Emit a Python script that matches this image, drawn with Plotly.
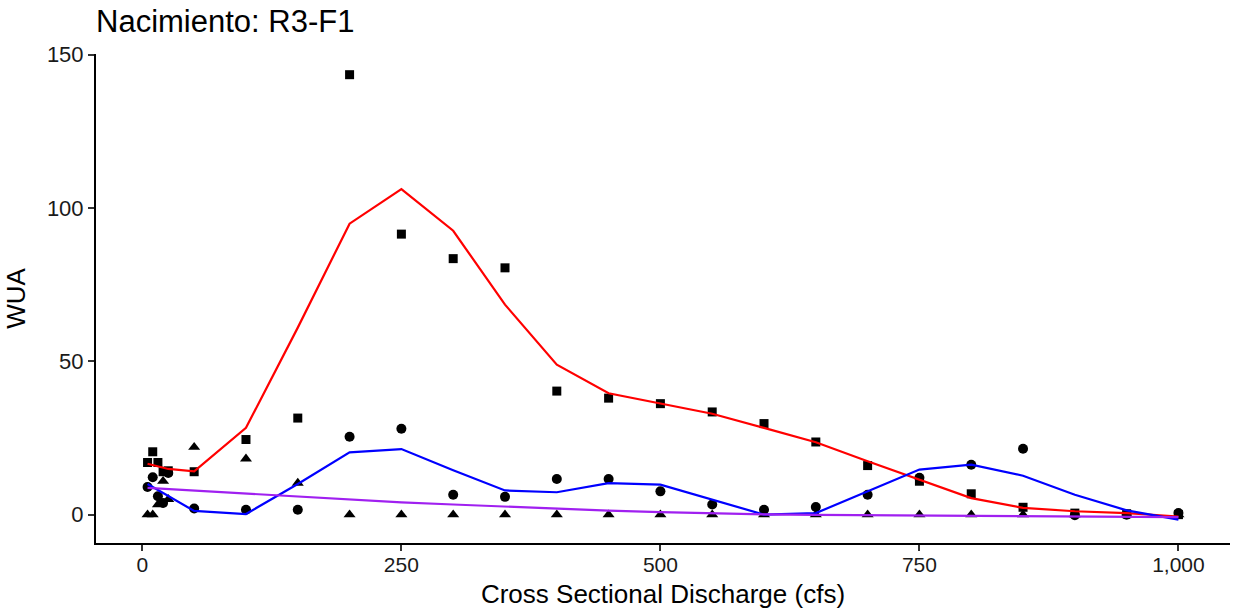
import plotly.graph_objects as go

# ---- data ----
x_pts = [5, 10, 15, 20, 25, 50, 100, 150, 200, 250, 300, 350, 400, 450, 500,
         550, 600, 650, 700, 750, 800, 850, 900, 950, 1000]
wua_square = [17, 20.5, 17, 14, 14.3, 14, 24.5, 31.5, 143.5, 91.5, 83.5, 80.5, 40.3, 38, 36.2,
              33.5, 29.7, 23.7, 16, 10.9, 6.8, 2.4, 0.5, 0.3, 0]
wua_circle = [9, 12.2, 6, 3.8, 13.6, 2, 1.6, 1.6, 25.4, 28, 6.5, 5.8, 11.6, 11.6, 7.6,
              3.3, 1.6, 2.5, 6.5, 12, 16.3, 21.5, -0.2, 0, 0.5]
wua_triangle = [0, 0, 3.3, 10.9, 5, 22, 18.2, 10.3, 0, 0, 0, 0, 0, 0, 0,
                0, 0, 0, 0, 0, 0, 0, 0, 0, 0]

x_fit = [5, 25, 50, 100, 150, 200, 250, 300, 350, 400, 450, 500, 550, 600, 650,
         700, 750, 800, 850, 900, 950, 1000]
fit_red = [16.6, 14.9, 14.1, 28.3, 61, 94.9, 106.2, 92.6, 68.5, 48.9, 39.6, 36.2, 32.9,
           28.3, 23.6, 17.4, 11.4, 5.4, 2.2, 1.1, 0.5, -0.6]
fit_blue = [10, 6.1, 1.2, 0.2, 10, 20.3, 21.4, 14.5, 7.9, 7.3, 10.3, 9.8, 4.9,
            0, 0.5, 7.6, 14.7, 16.3, 12.7, 6.5, 1.4, -1.6]
fit_purple = [8.7, 8.3, 7.8, 6.8, 5.8, 4.9, 4.0, 3.3, 2.6, 1.9, 1.3, 0.8, 0.4,
              0.1, -0.1, -0.2, -0.2, -0.3, -0.4, -0.5, -0.6, -0.8]

x_ticks = [0, 250, 500, 750, 1000]
x_ticktext = ["0", "250", "500", "750", "1,000"]
y_ticks = [0, 50, 100, 150]

FONT = "Liberation Sans, Arial, sans-serif"

fig = go.Figure()
fig.add_trace(go.Scatter(x=x_pts, y=wua_square, mode="markers",
                         marker=dict(symbol="square", size=9, color="black"),
                         showlegend=False))
fig.add_trace(go.Scatter(x=x_pts, y=wua_circle, mode="markers",
                         marker=dict(symbol="circle", size=10, color="black"),
                         showlegend=False))
fig.add_trace(go.Scatter(x=x_pts, y=wua_triangle, mode="markers",
                         marker=dict(symbol="triangle-up", size=10.5, color="black"),
                         showlegend=False))
fig.add_trace(go.Scatter(x=x_fit, y=fit_red, mode="lines",
                         line=dict(color="#ff0000", width=2.2), showlegend=False))
fig.add_trace(go.Scatter(x=x_fit, y=fit_blue, mode="lines",
                         line=dict(color="#0000ff", width=2.2), showlegend=False))
fig.add_trace(go.Scatter(x=x_fit, y=fit_purple, mode="lines",
                         line=dict(color="#a020f0", width=2.2), showlegend=False))

fig.update_layout(
    width=1236, height=614,
    paper_bgcolor="white", plot_bgcolor="white",
    margin=dict(l=96, r=6, t=54, b=71),
    font=dict(family=FONT, color="#1a1a1a", size=21),
    title=dict(text="Nacimiento: R3-F1", x=96 / 1236, xanchor="left", xref="container",
               y=1 - 21 / 614, yanchor="middle", yref="container",
               font=dict(size=31, color="black", family=FONT)),
)
fig.update_xaxes(
    range=[-44.75, 1049.75], tickvals=x_ticks, ticktext=x_ticktext,
    showgrid=False, zeroline=False, showline=True, linecolor="black", linewidth=2,
    ticks="outside", ticklen=6, tickwidth=1.5, tickcolor="#333333",
    tickfont=dict(size=21, color="#1a1a1a"), automargin=False, ticklabelstandoff=-4,
    title=dict(text="Cross Sectional Discharge (cfs)", font=dict(size=26, color="black"), standoff=10),
)
fig.update_yaxes(
    range=[-9.25, 150.25], tickvals=y_ticks,
    showgrid=False, zeroline=False, showline=True, linecolor="black", linewidth=2,
    ticks="outside", ticklen=6, tickwidth=1.5, tickcolor="#333333",
    tickfont=dict(size=22, color="#1a1a1a"), automargin=False,
    title=dict(text="WUA", font=dict(size=26, color="black"), standoff=14),
)

fig.write_html("out.html", config={"displayModeBar": False},
               post_script="document.body.style.margin='0';")
